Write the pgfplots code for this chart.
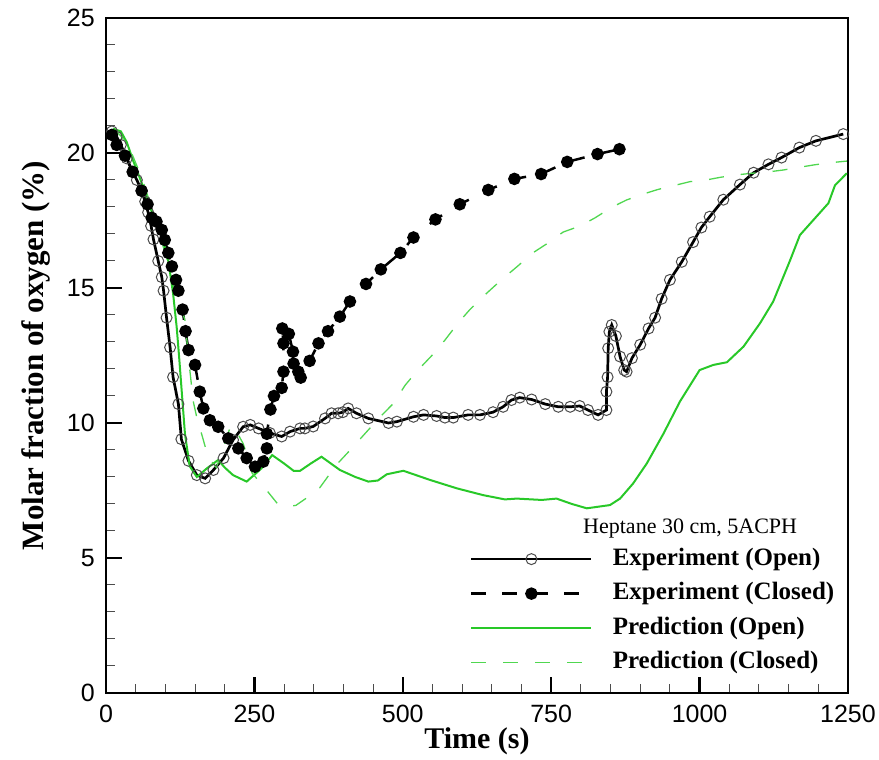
\documentclass[border=0pt]{standalone}
\usepackage{pgfplots}
\pgfplotsset{compat=1.18}
\usepackage{fontspec}
\setmainfont{Liberation Serif}
\newfontfamily\arialfont{Liberation Sans}
\definecolor{pgreen}{RGB}{40,200,40}
\definecolor{pgreenl}{RGB}{80,215,80}

\pgfplotstableread{
x y
10 20.8
18 20.6
25 20.3
35 19.8
45 19.3
52 19.0
60 18.6
66 18.2
71 17.8
76 17.3
80 16.8
88 16.0
94 15.4
97 14.9
102 13.9
108 12.8
113 11.7
122 10.7
127 9.4
139 8.6
153 8.07
167 7.95
181 8.26
198 8.7
214 9.37
231 9.86
243 9.93
257 9.8
276 9.63
296 9.5
310 9.68
327 9.8
335 9.8
349 9.87
369 10.17
380 10.36
391 10.36
399 10.4
408 10.54
422 10.36
442 10.17
476 10.0
490 10.05
518 10.23
535 10.3
557 10.26
571 10.2
585 10.2
610 10.3
630 10.3
652 10.4
669 10.6
683 10.85
697 10.94
717 10.87
740 10.7
762 10.6
782 10.6
798 10.63
812 10.48
829 10.3
843 10.48
843 11.16
845 11.7
846 12.77
848 13.38
852 13.63
859 13.22
866 12.46
873 11.96
877 11.9
886 12.4
900 12.9
914 13.5
925 13.9
936 14.6
950 15.3
970 15.97
989 16.7
1003 17.24
1017 17.64
1040 18.27
1068 18.83
1091 19.27
1116 19.58
1138 19.83
1168 20.2
1196 20.45
1242 20.7
}\expopen

\pgfplotstableread{
x y
10 20.67
18 20.3
32 19.9
45 19.3
60 18.6
70 18.1
77 17.6
85 17.46
94 17.15
99 16.78
105 16.3
111 15.8
118 15.3
122 14.9
129 14.2
134 13.4
139 12.7
150 12.15
158 11.16
164 10.54
175 10.1
189 9.86
206 9.43
223 9.06
237 8.7
251 8.38
265 8.57
271 9.06
271 9.6
277 10.5
283 11.0
296 11.3
299 11.9
299 12.95
297 13.5
308 13.3
315 12.64
316 12.2
324 11.9
328 11.68
343 12.3
358 12.95
374 13.4
394 13.94
411 14.5
438 15.15
463 15.69
496 16.3
518 16.87
555 17.54
596 18.1
644 18.63
688 19.04
733 19.22
777 19.67
828 19.96
865 20.14
}\expclosed

\pgfplotstableread{
x y
12 20.9
25 20.8
35 20.4
46 19.7
60 18.9
74 18.0
85 17.4
94 16.96
105 16.0
113 14.8
119 13.57
123 12.5
127 11.34
133 9.6
141 8.4
153 8.0
170 8.32
189 8.63
200 8.35
214 8.07
237 7.83
262 8.32
280 8.81
300 8.5
316 8.23
327 8.23
345 8.5
363 8.75
394 8.26
420 8.0
442 7.83
458 7.87
473 8.1
501 8.23
546 7.89
591 7.58
635 7.33
672 7.17
692 7.2
734 7.15
759 7.2
785 7.0
810 6.84
849 6.96
866 7.2
888 7.76
911 8.5
939 9.6
967 10.8
1000 11.96
1023 12.15
1046 12.25
1074 12.83
1102 13.7
1124 14.5
1152 16.0
1169 16.96
1195 17.6
1217 18.14
1228 18.8
1248 19.25
}\predopen

\pgfplotstableread{
x y
10 20.7
20 20.75
30 20.5
45 19.9
60 19.1
75 18.1
90 17.0
105 15.9
115 15.0
125 14.4
133 13.8
140 12.2
147 10.8
155 10.0
161 9.6
170 8.9
178 8.57
186 8.35
198 9.1
210 9.9
222 9.6
231 9.24
240 8.63
246 8.15
268 7.58
290 6.98
305 6.9
320 6.95
341 7.27
360 7.6
370 7.9
386 8.4
414 9.06
436 9.6
462 10.23
484 10.72
504 11.4
523 11.9
549 12.5
571 13.07
593 13.7
613 14.2
641 14.8
666 15.3
693 15.8
719 16.3
747 16.7
770 17.07
799 17.3
824 17.6
852 17.99
877 18.26
905 18.48
930 18.65
958 18.8
984 18.94
1011 19.0
1035 19.1
1063 19.19
1088 19.25
1116 19.3
1141 19.37
1168 19.47
1193 19.56
1220 19.64
1248 19.7
}\predclosed

\begin{document}
\begin{tikzpicture}
\begin{axis}[
  scale only axis,
  width=742pt, height=675pt,
  xmin=0, xmax=1250, ymin=0, ymax=25,
  xtick={0,250,...,1250}, ytick={0,5,...,25},
  minor x tick num=4, minor y tick num=4,
  xtick pos=bottom, ytick pos=left,
  tick align=inside,
  major tick length=16pt, minor tick length=9pt,
  axis line style={line width=2.5pt},
  major tick style={line width=2.5pt, black},
  minor tick style={line width=1pt, black!70},
  /pgf/number format/assume math mode=true,
  /pgf/number format/1000 sep={},
  xticklabel style={font=\arialfont\fontsize{25}{25}\selectfont, inner sep=0pt, anchor=north, yshift=-12pt},
  yticklabel style={font=\arialfont\fontsize{25}{25}\selectfont, inner sep=0pt, anchor=east, xshift=-11pt},
  xlabel={Time (s)},
  ylabel={Molar fraction of oxygen (\%)},
  xlabel style={font=\bfseries\fontsize{30}{30}\selectfont, at={(axis description cs:0.5,-0.0815)}, anchor=base, inner sep=0pt},
  ylabel style={font=\bfseries\fontsize{31}{31}\selectfont, at={(axis description cs:-0.0836,0.5)}, anchor=base, inner sep=0pt},
  legend style={draw=none, fill=none, at={(axis cs:613,5.41)}, anchor=north west, inner sep=0pt,
    font=\bfseries\fontsize{25}{25}\selectfont,
    nodes={inner sep=0pt, text height=18pt, text depth=6pt},
    row sep=10.5pt,
    /tikz/every odd column/.append style={column sep=20pt}},
  legend cell align=left,
  legend image code/.code={\draw[mark repeat=2, mark phase=2, #1] plot coordinates {(0pt,0pt) (60pt,0pt) (120pt,0pt)};},
]
\addplot[black, line width=2.7pt, mark=o, mark size=5.5pt, mark options={solid, draw=black!70, line width=1pt}] table {\expopen};
\addlegendentry{Experiment (Open)}
\addplot[black, line width=2.5pt, dash pattern=on 15pt off 16pt, mark=*, mark size=5pt, mark options={solid, fill=black, draw=black}] table {\expclosed};
\addlegendentry{Experiment (Closed)}
\addplot[pgreen, line width=2pt] table {\predopen};
\addlegendentry{Prediction (Open)}
\addplot[pgreenl, line width=1.3pt, dash pattern=on 15pt off 17pt] table {\predclosed};
\addlegendentry{Prediction (Closed)}
\node[anchor=base west, inner sep=0pt, font=\fontsize{22}{22}\selectfont] at (axis cs:803.6,5.89) {Heptane 30 cm, 5ACPH};
\end{axis}
\pgfresetboundingbox
\path[use as bounding box] ([xshift=-106pt,yshift=-67pt]current axis.south west) rectangle ([xshift=31pt,yshift=18pt]current axis.north east);
\end{tikzpicture}
\end{document}
